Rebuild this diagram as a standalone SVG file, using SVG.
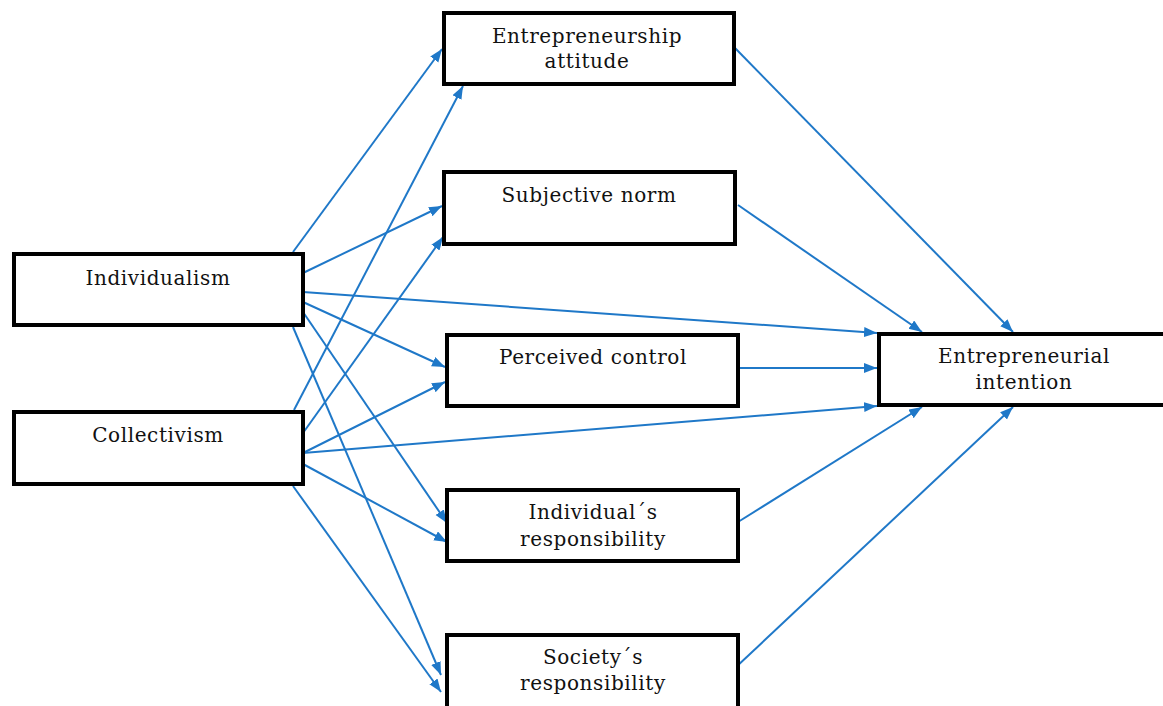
<svg xmlns="http://www.w3.org/2000/svg" width="1163" height="706" viewBox="0 0 1163 706">
<style>
.box{fill:#ffffff;stroke:#000000;stroke-width:4}
.lbl{font-family:"DejaVu Serif","Liberation Serif",serif;font-size:20px;letter-spacing:0.6px;fill:#111111;text-anchor:middle}
.con{stroke:#1f78c8;stroke-width:2;fill:none;marker-end:url(#ah)}
</style>
<defs>
<marker id="ah" markerUnits="userSpaceOnUse" markerWidth="14" markerHeight="11" refX="13" refY="5" orient="auto">
<path d="M0,0 L13,5 L0,10 z" fill="#1f78c8"/>
</marker>
</defs>
<rect width="1163" height="706" fill="#ffffff"/>
<g id="connectors">
<line class="con" x1="293" y1="252" x2="442" y2="49"/>
<line class="con" x1="294" y1="410" x2="463" y2="86"/>
<line class="con" x1="303" y1="273" x2="442" y2="206"/>
<line class="con" x1="303" y1="433" x2="443" y2="237"/>
<line class="con" x1="303" y1="292" x2="877" y2="333"/>
<line class="con" x1="303" y1="302" x2="445" y2="367"/>
<line class="con" x1="303" y1="312" x2="447" y2="523"/>
<line class="con" x1="293" y1="327" x2="441" y2="675"/>
<line class="con" x1="303" y1="453" x2="445" y2="382"/>
<line class="con" x1="303" y1="453" x2="877" y2="406"/>
<line class="con" x1="303" y1="464" x2="447" y2="542"/>
<line class="con" x1="293" y1="486" x2="441" y2="692"/>
<line class="con" x1="735" y1="48" x2="1013" y2="332"/>
<line class="con" x1="738" y1="205" x2="922" y2="332"/>
<line class="con" x1="738" y1="368" x2="877" y2="368"/>
<line class="con" x1="738" y1="522" x2="922" y2="407"/>
<line class="con" x1="735" y1="668" x2="1013" y2="407"/>
</g>
<g id="individualism">
<rect class="box" x="14" y="254" width="289" height="71"/>
<text class="lbl" x="158" y="285">Individualism</text>
</g>
<g id="collectivism">
<rect class="box" x="14" y="412" width="289" height="72"/>
<text class="lbl" x="158" y="442">Collectivism</text>
</g>
<g id="entrepreneurship-attitude">
<rect class="box" x="444" y="13" width="290" height="71"/>
<text class="lbl" x="587" y="43">Entrepreneurship</text>
<text class="lbl" x="587" y="68">attitude</text>
</g>
<g id="subjective-norm">
<rect class="box" x="444" y="172" width="291" height="72"/>
<text class="lbl" x="589" y="202">Subjective norm</text>
</g>
<g id="perceived-control">
<rect class="box" x="447" y="335" width="291" height="71"/>
<text class="lbl" x="593" y="364">Perceived control</text>
</g>
<g id="individuals-responsibility">
<rect class="box" x="447" y="490" width="291" height="71"/>
<text class="lbl" x="593" y="519">Individual´s</text>
<text class="lbl" x="593" y="546">responsibility</text>
</g>
<g id="societys-responsibility">
<rect class="box" x="447" y="635" width="291" height="80"/>
<text class="lbl" x="593" y="664">Society´s</text>
<text class="lbl" x="593" y="690">responsibility</text>
</g>
<g id="entrepreneurial-intention">
<rect class="box" x="879" y="334" width="292" height="71"/>
<text class="lbl" x="1024" y="363">Entrepreneurial</text>
<text class="lbl" x="1024" y="389">intention</text>
</g>
</svg>
